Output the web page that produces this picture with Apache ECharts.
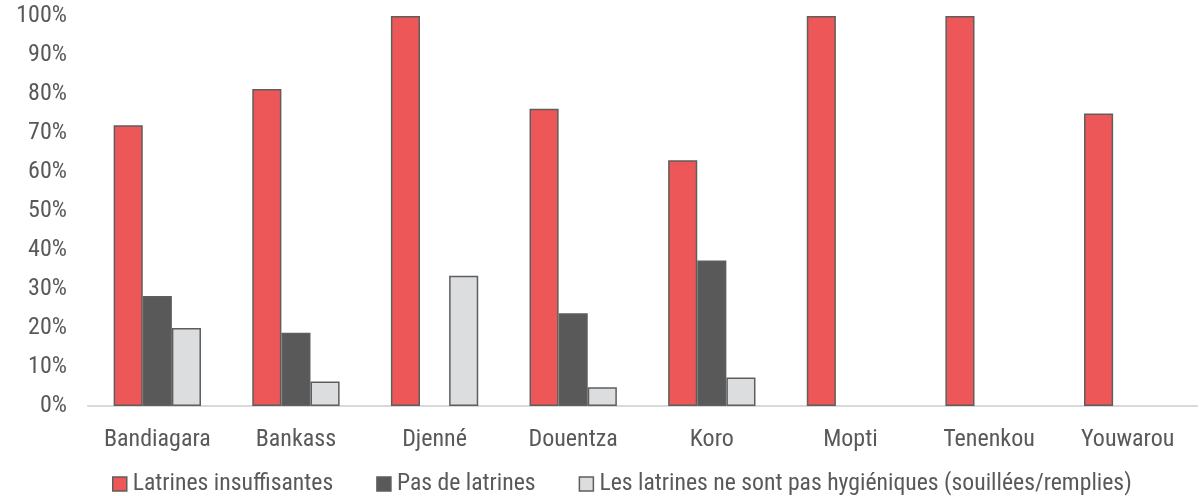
<!DOCTYPE html>
<html><head><meta charset="utf-8">
<script src="https://cdn.jsdelivr.net/npm/echarts@6/dist/echarts.min.js"></script>
<style>html,body{margin:0;padding:0;background:#fff}#c{width:1204px;height:496px}</style>
</head><body><div id="c"></div>
<script>
const categories = ['Bandiagara','Bankass','Djenné','Douentza','Koro','Mopti','Tenenkou','Youwarou'];
const seriesNames = ['Latrines insuffisantes','Pas de latrines','Les latrines ne sont pas hygiéniques (souillées/remplies)'];
const insuffisantes = [72, 81.3, 100, 76.2, 63, 100, 100, 75];
const pasDeLatrines = [28.2, 18.8, 0, 23.8, 37.3, 0, 0, 0];
const nonHygieniques = [20, 6.3, 33.4, 4.8, 7.3, 0, 0, 0];
const yTicks = [0,10,20,30,40,50,60,70,80,90,100];

const FONT = "'Roboto Condensed','Liberation Sans Narrow','DejaVu Sans Condensed',Roboto,sans-serif";
const colors = ['#EE5757','#595959','#DCDDDF'];
const chart = echarts.init(document.getElementById('c'));
const mk = (name, data, i) => ({
  name, type:'bar', data: data.map(v => v === 0 ? null : v),
  barGap:'0%', barCategoryGap:'37%',
  itemStyle:{color:colors[i], borderColor:'#5E5E5E', borderWidth:1.5},
  emphasis:{disabled:true}
});
chart.setOption({
  animation:false,
  textStyle:{fontFamily:FONT},
  grid:{left:88, right:7, top:16, bottom:90, containLabel:false},
  legend:{
    top:467, left:107, itemWidth:14, itemHeight:14, itemGap:43,
    icon:'rect',
    itemStyle:{borderColor:'#5E5E5E', borderWidth:1.5},
    textStyle:{fontFamily:FONT, fontSize:23.7, color:'#595959', padding:[0,0,0,1]},
    data: seriesNames
  },
  xAxis:{
    type:'category', data:categories,
    axisLine:{lineStyle:{color:'#D9D9D9', width:2}},
    axisTick:{show:false},
    axisLabel:{fontFamily:FONT, fontSize:24, color:'#595959', margin:22, interval:0}
  },
  yAxis:{
    type:'value', min:yTicks[0], max:yTicks[yTicks.length-1], interval:10,
    splitLine:{show:false}, axisLine:{show:false}, axisTick:{show:false},
    axisLabel:{fontFamily:FONT, fontSize:24, color:'#595959', margin:21, formatter:'{value}%'}
  },
  series:[mk(seriesNames[0], insuffisantes, 0), mk(seriesNames[1], pasDeLatrines, 1), mk(seriesNames[2], nonHygieniques, 2)]
});
</script></body></html>
